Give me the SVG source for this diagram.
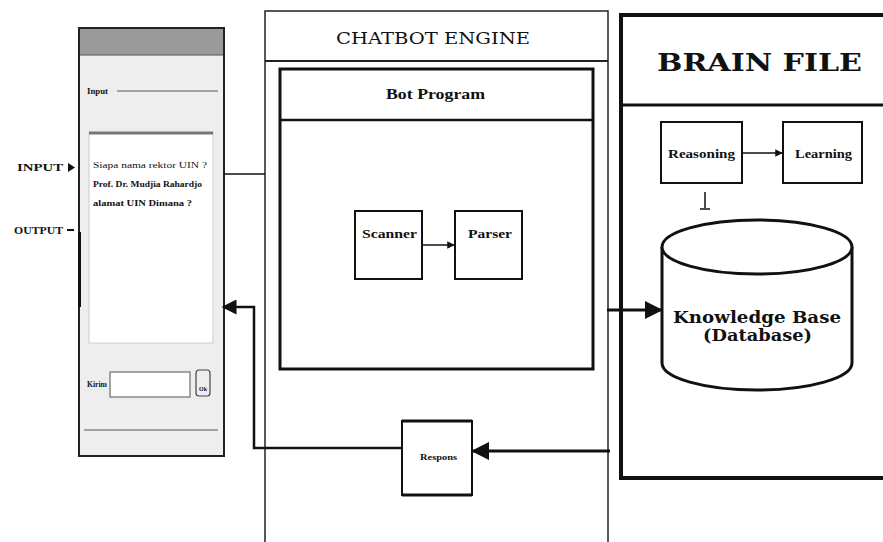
<svg xmlns="http://www.w3.org/2000/svg" width="883" height="542" viewBox="0 0 883 542">
<defs>
<style>
.t{font-family:"DejaVu Serif","Liberation Serif",serif;fill:#111;}
.s{font-family:"Liberation Serif","DejaVu Serif",serif;fill:#111;}
.b{font-weight:bold;}
.box{fill:#fff;stroke:#111;stroke-width:2;}
.thin{fill:none;stroke:#111;stroke-width:1.5;}
</style>
<marker id="ah" viewBox="0 0 10 10" refX="9" refY="5" markerWidth="5" markerHeight="5" orient="auto"><path d="M0,0 L10,5 L0,10 z" fill="#111"/></marker>
<marker id="ahs" viewBox="0 0 10 10" refX="9" refY="5" markerWidth="6" markerHeight="6" orient="auto"><path d="M0,0 L10,5 L0,10 z" fill="#111"/></marker>
</defs>
<rect width="883" height="542" fill="#fff"/>

<g id="chat-window">
<rect x="79" y="28" width="145" height="428" fill="#eeeeee" stroke="#222" stroke-width="2"/>
<rect x="80" y="29" width="143" height="26" fill="#9a9a9a"/>
<line x1="80" y1="55" x2="223" y2="55" stroke="#555" stroke-width="1"/>
<text class="s b" x="87" y="94" font-size="8" textLength="21" lengthAdjust="spacingAndGlyphs">Input</text>
<line x1="117" y1="91" x2="218" y2="91" stroke="#888" stroke-width="1.5"/>
<rect x="89" y="133" width="124" height="210" fill="#fff" stroke="#ccc" stroke-width="1"/>
<line x1="89" y1="133" x2="213" y2="133" stroke="#777" stroke-width="3"/>
<text class="s" x="93" y="168" font-size="8" textLength="114" lengthAdjust="spacingAndGlyphs">Siapa nama rektor UIN ?</text>
<text class="s b" x="93" y="187" font-size="9" textLength="109" lengthAdjust="spacingAndGlyphs">Prof. Dr. Mudjia Rahardjo</text>
<text class="s b" x="93" y="206" font-size="9" textLength="99" lengthAdjust="spacingAndGlyphs">alamat UIN Dimana ?</text>
<line x1="79.5" y1="232" x2="79.5" y2="307" stroke="#111" stroke-width="3"/>
<text class="s b" x="87" y="387" font-size="8" textLength="20" lengthAdjust="spacingAndGlyphs">Kirim</text>
<rect x="110" y="372" width="80" height="25" fill="#fff" stroke="#888" stroke-width="1.5"/>
<rect x="196" y="370" width="14" height="26" rx="3" fill="#eee" stroke="#444" stroke-width="1.2"/>
<text class="s b" x="203" y="391" font-size="6" text-anchor="middle">Ok</text>
<line x1="84" y1="430" x2="218" y2="430" stroke="#888" stroke-width="1.5"/>
</g>

<g id="labels">
<text class="s b" x="17" y="171" font-size="11" textLength="46" lengthAdjust="spacingAndGlyphs">INPUT</text>
<path d="M68,163 L75,167.5 L68,172 z" fill="#111"/>
<text class="s b" x="14" y="234" font-size="10" textLength="49" lengthAdjust="spacingAndGlyphs">OUTPUT</text>
<line x1="67" y1="230" x2="74" y2="230" stroke="#111" stroke-width="2"/>
</g>

<g id="chatbot-engine">
<rect x="265" y="11" width="343" height="540" fill="#fff" stroke="#222" stroke-width="1.5"/>
<line x1="265" y1="61" x2="608" y2="61" stroke="#222" stroke-width="2"/>
<text class="t" x="336" y="44" font-size="16" textLength="194" lengthAdjust="spacingAndGlyphs">CHATBOT ENGINE</text>
</g>

<g id="bot-program">
<rect x="280" y="69" width="313" height="300" fill="#fff" stroke="#111" stroke-width="3"/>
<line x1="280" y1="120" x2="593" y2="120" stroke="#111" stroke-width="2.5"/>
<text class="s b" x="386" y="99" font-size="15" textLength="99" lengthAdjust="spacingAndGlyphs">Bot Program</text>
</g>

<g id="scanner">
<rect class="box" x="355" y="211" width="67" height="68"/>
<text class="s b" x="362" y="238" font-size="13" textLength="55" lengthAdjust="spacingAndGlyphs">Scanner</text>
</g>
<g id="parser">
<rect class="box" x="455" y="211" width="67" height="68"/>
<text class="s b" x="468" y="238" font-size="13" textLength="44" lengthAdjust="spacingAndGlyphs">Parser</text>
</g>

<g id="response">
<rect x="402" y="421" width="70" height="74" fill="#fff" stroke="#111" stroke-width="2"/>
<line x1="402" y1="421" x2="472" y2="421" stroke="#111" stroke-width="3"/>
<line x1="402" y1="495" x2="472" y2="495" stroke="#111" stroke-width="3"/>
<text class="s b" x="420" y="460" font-size="8" textLength="37" lengthAdjust="spacingAndGlyphs">Respons</text>
</g>

<g id="brain-file">
<rect x="621" y="15" width="280" height="463" fill="#fff" stroke="#111" stroke-width="4"/>
<line x1="621" y1="105" x2="883" y2="105" stroke="#111" stroke-width="3"/>
<text class="t b" x="657" y="71" font-size="24" textLength="205" lengthAdjust="spacingAndGlyphs">BRAIN FILE</text>
</g>

<g id="reasoning">
<rect class="box" x="661" y="122" width="81" height="61"/>
<text class="s b" x="668" y="158" font-size="13" textLength="67" lengthAdjust="spacingAndGlyphs">Reasoning</text>
</g>
<g id="learning">
<rect class="box" x="783" y="122" width="79" height="61"/>
<text class="s b" x="795" y="158" font-size="13" textLength="57" lengthAdjust="spacingAndGlyphs">Learning</text>
</g>

<g id="knowledge-base">
<path d="M662,247 L662,363 A95,27 0 0 0 852,363 L852,247" fill="#fff" stroke="#111" stroke-width="3"/>
<ellipse cx="757" cy="247" rx="95" ry="27" fill="#fff" stroke="#111" stroke-width="3"/>
<text class="t b" x="673" y="323" font-size="16" textLength="168" lengthAdjust="spacingAndGlyphs">Knowledge Base</text>
<text class="t b" x="703" y="341" font-size="16" textLength="109" lengthAdjust="spacingAndGlyphs">(Database)</text>
</g>

<g id="connectors">
<line x1="224" y1="174" x2="265" y2="174" class="thin"/>
<line x1="422" y1="245" x2="454" y2="245" class="thin" marker-end="url(#ah)"/>
<line x1="742" y1="153" x2="782" y2="153" class="thin" marker-end="url(#ah)"/>
<line x1="705" y1="192" x2="705" y2="208" stroke="#111" stroke-width="1.5"/>
<line x1="700" y1="209" x2="710" y2="209" stroke="#111" stroke-width="1.5"/>
<line x1="607" y1="310" x2="661" y2="310" stroke="#111" stroke-width="3" marker-end="url(#ahs)"/>
<line x1="610" y1="451" x2="473" y2="451" stroke="#111" stroke-width="3" marker-end="url(#ahs)"/>
<polyline points="402,448 254,448 254,307 223,307" fill="none" stroke="#111" stroke-width="2.5" marker-end="url(#ahs)"/>
</g>
</svg>
